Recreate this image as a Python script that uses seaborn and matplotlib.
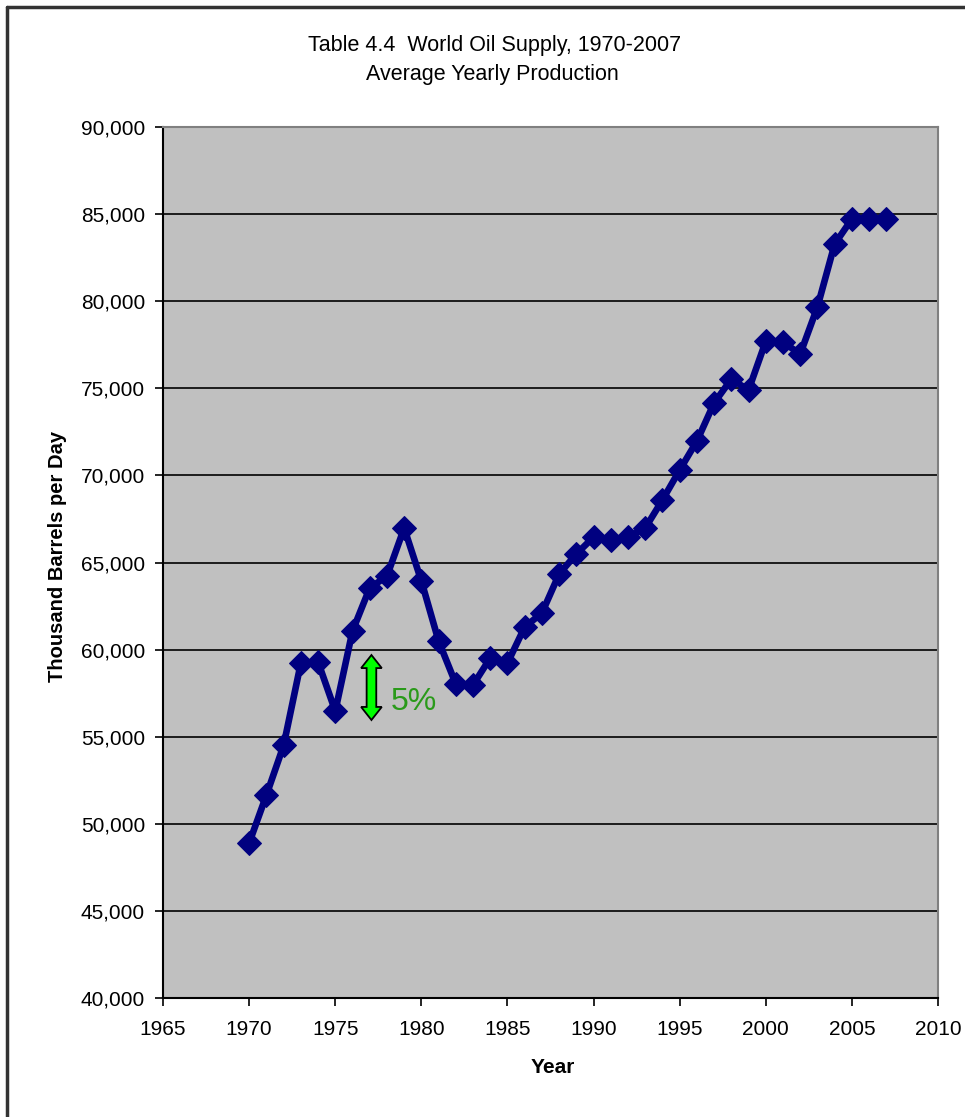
import numpy as np
import pandas as pd
import matplotlib
matplotlib.use("Agg")
import matplotlib.pyplot as plt
from matplotlib.lines import Line2D
from matplotlib.patches import Polygon
import seaborn as sns

years = list(range(1970, 2008))
supply = [48900, 51650, 54500, 59230, 59290, 56470, 61070, 63540, 64220, 66980,
          63940, 60490, 58030, 57970, 59520, 59230, 61300, 62100, 64340, 65490,
          66460, 66290, 66460, 66980, 68590, 70310, 71970, 74160, 75530, 74900,
          77700, 77650, 76970, 79670, 83280, 84720, 84720, 84720]
x_ticks = list(range(1965, 2011, 5))
y_ticks = list(range(40000, 90001, 5000))
title_line1 = "Table 4.4  World Oil Supply, 1970-2007"
title_line2 = "Average Yearly Production"
arrow_year = 1977.1
arrow_low, arrow_high = 55960, 59690
arrow_label = "5%"

df = pd.DataFrame({"Year": years, "Supply": supply})

sns.set_theme(style="white")
plt.rcParams['font.family'] = ['Liberation Sans', 'DejaVu Sans']
plt.rcParams['text.color'] = 'black'
plt.rcParams['axes.labelcolor'] = 'black'

fig = plt.figure(figsize=(9.65, 11.17), dpi=100)
ax = fig.add_axes([0.169, 0.1065, 0.803, 0.7798])
ax.set_facecolor("#c0c0c0")

sns.lineplot(data=df, x="Year", y="Supply", ax=ax, color="#000080", lw=4.8,
             marker="D", markersize=12.5, markeredgecolor="#000080",
             markerfacecolor="#000080", zorder=3)

ax.set_xlim(1965, 2010)
ax.set_ylim(40000, 90000)
ax.set_xticks(x_ticks)
ax.set_yticks(y_ticks)
ax.set_yticklabels([f"{v:,}" for v in y_ticks])
ax.tick_params(axis="both", which="major", direction="out", length=6, width=1.2,
               color="black", labelsize=15, labelcolor="black", left=True, bottom=True)
ax.tick_params(axis="y", pad=7)
ax.tick_params(axis="x", pad=10)
ax.grid(axis="y", color="black", lw=1.2)
ax.grid(axis="x", visible=False)
ax.set_axisbelow(True)
for side in ["left", "bottom"]:
    ax.spines[side].set_color("black")
    ax.spines[side].set_linewidth(1.5)
for side in ["top", "right"]:
    ax.spines[side].set_color("#808080")
    ax.spines[side].set_linewidth(1.5)

ax.set_xlabel("Year", fontsize=15, fontweight="bold")
ax.set_ylabel("Thousand Barrels per Day", fontsize=14.5, fontweight="bold")
ax.xaxis.set_label_coords(0.5 + 2 / 775, -0.0688)
ax.yaxis.set_label_coords(-0.1235, 0.5 + 6 / 871)

fig.text(0.512, 0.9597, title_line1, ha="center", va="center", fontsize=15.5)
fig.text(0.510, 0.9337, title_line2, ha="center", va="center", fontsize=15.5)

# double-headed green arrow
hw, sw, hl = 0.6, 0.28, 750
xa = arrow_year
pts = [(xa, arrow_high), (xa + hw, arrow_high - hl), (xa + sw, arrow_high - hl),
       (xa + sw, arrow_low + hl), (xa + hw, arrow_low + hl), (xa, arrow_low),
       (xa - hw, arrow_low + hl), (xa - sw, arrow_low + hl), (xa - sw, arrow_high - hl),
       (xa - hw, arrow_high - hl)]
ax.add_patch(Polygon(pts, closed=True, facecolor="#00ff00", edgecolor="black",
                     lw=1.3, zorder=4))
ax.text(arrow_year + 1.1, (arrow_low + arrow_high) / 2 - 860, arrow_label,
        color="#2a9a1a", fontsize=23, va="center", ha="left", zorder=4)

# outer chart border (left and top visible)
fig.add_artist(Line2D([0.0075, 0.0075], [0, 0.9937], transform=fig.transFigure,
                      color="#333333", lw=2.5))
fig.add_artist(Line2D([0.0075, 1.0], [0.9937, 0.9937], transform=fig.transFigure,
                      color="#333333", lw=2.5))

fig.savefig("out.png", dpi=100)
